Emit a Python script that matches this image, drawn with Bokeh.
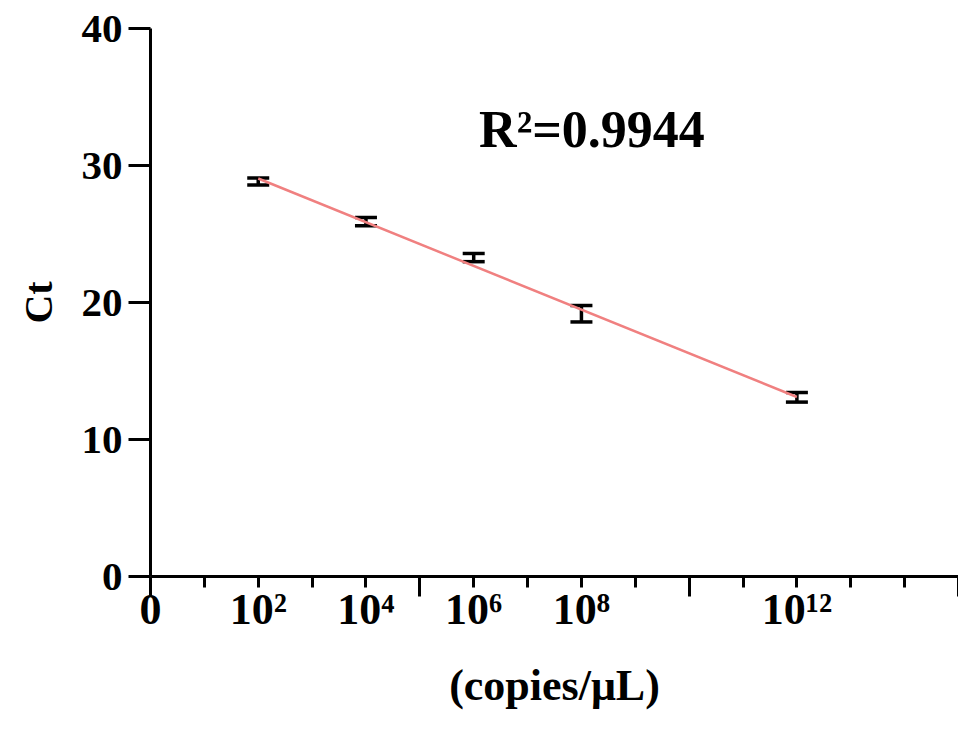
from bokeh.plotting import figure
from bokeh.models import (ColumnDataSource, FixedTicker, LinearAxis, Whisker,
                          TeeHead, Label, Range1d)
from bokeh.embed import file_html
from bokeh.resources import INLINE

# ---- data ----
log_copies = [2, 4, 6, 8, 12]                 # log10(copies/uL)
ct_mean = [28.83, 25.9, 23.28, 19.18, 13.08]
ct_err = [0.25, 0.3, 0.3, 0.6, 0.35]
fit_x = [2, 12]
fit_y = [29.05, 13.1]
r2_text = "R\u00b2=0.9944"

x_label_ticks = [0, 2, 4, 6, 8, 12]
x_label_texts = ["0", "10\u00b2", "10\u2074", "10\u2076", "10\u2078", "10\u00b9\u00b2"]
x_major_ticks = [0, 5, 10, 15]
x_minor_ticks = [1, 2, 3, 4, 6, 7, 8, 9, 11, 12, 13, 14]
y_ticks = [0, 10, 20, 30, 40]

FONT = "Liberation Serif"

p = figure(width=958, height=712, output_backend="svg", toolbar_location=None,
           x_range=Range1d(0, 15), y_range=Range1d(0, 40),
           min_border_left=150, min_border_right=0, min_border_top=28,
           min_border_bottom=40)
p.outline_line_color = None
p.xgrid.visible = False
p.ygrid.visible = False
p.background_fill_color = "white"

# y axis
ya = p.yaxis[0]
ya.ticker = FixedTicker(ticks=y_ticks, minor_ticks=[])
ya.axis_line_width = 3
ya.major_tick_line_width = 3
ya.major_tick_out = 22
ya.major_tick_in = 0
ya.major_label_text_font = FONT
ya.major_label_text_font_style = "bold"
ya.major_label_text_font_size = "41px"
ya.major_label_text_color = "black"
ya.major_label_standoff = 6
ya.axis_label = "Ct"
ya.axis_label_text_font = FONT
ya.axis_label_text_font_style = "bold"
ya.axis_label_text_font_size = "40px"
ya.axis_label_text_color = "black"
ya.axis_label_standoff = 18

# x axis with ticks only
xa = p.xaxis[0]
xa.ticker = FixedTicker(ticks=x_major_ticks, minor_ticks=x_minor_ticks)
xa.axis_line_width = 3
xa.major_tick_line_width = 3
xa.minor_tick_line_width = 3
xa.major_tick_out = 20
xa.major_tick_in = 0
xa.minor_tick_out = 11
xa.minor_tick_in = 0
xa.major_label_overrides = {t: "" for t in x_major_ticks}
xa.major_label_text_font_size = "0px"
xa.major_label_standoff = 0

# x axis with labels only
xl = LinearAxis(ticker=FixedTicker(ticks=x_label_ticks, minor_ticks=[]))
xl.axis_line_color = None
xl.major_tick_line_color = None
xl.major_tick_out = 0
xl.major_tick_in = 0
xl.minor_tick_line_color = None
xl.major_label_overrides = dict(zip(x_label_ticks, x_label_texts))
xl.major_label_text_font = FONT
xl.major_label_text_font_style = "bold"
xl.major_label_text_font_size = "44px"
xl.major_label_text_color = "black"
xl.major_label_standoff = -12
xl.axis_label = "(copies/\u03bcL)"
xl.axis_label_text_font = FONT
xl.axis_label_text_font_style = "bold"
xl.axis_label_text_font_size = "44px"
xl.axis_label_text_color = "black"
xl.axis_label_standoff = 24
p.add_layout(xl, "below")

# regression line
p.line(fit_x, fit_y, line_color="#F08080", line_width=2.5)

# error bars
src = ColumnDataSource(dict(
    x=log_copies,
    upper=[m + e for m, e in zip(ct_mean, ct_err)],
    lower=[m - e for m, e in zip(ct_mean, ct_err)],
))
w = Whisker(source=src, base="x", upper="upper", lower="lower", dimension="height",
            line_color="black", line_width=3.5,
            upper_head=TeeHead(size=22, line_width=3.5, line_color="black"),
            lower_head=TeeHead(size=22, line_width=3.5, line_color="black"))
p.add_layout(w)

p.add_layout(Label(x=6.1, y=32.6, text=r2_text, text_font=FONT,
                   text_font_style="bold", text_font_size="52px",
                   text_color="black",
                   text_baseline="middle", text_align="left"))

open("out.html", "w").write(file_html(p, INLINE))
